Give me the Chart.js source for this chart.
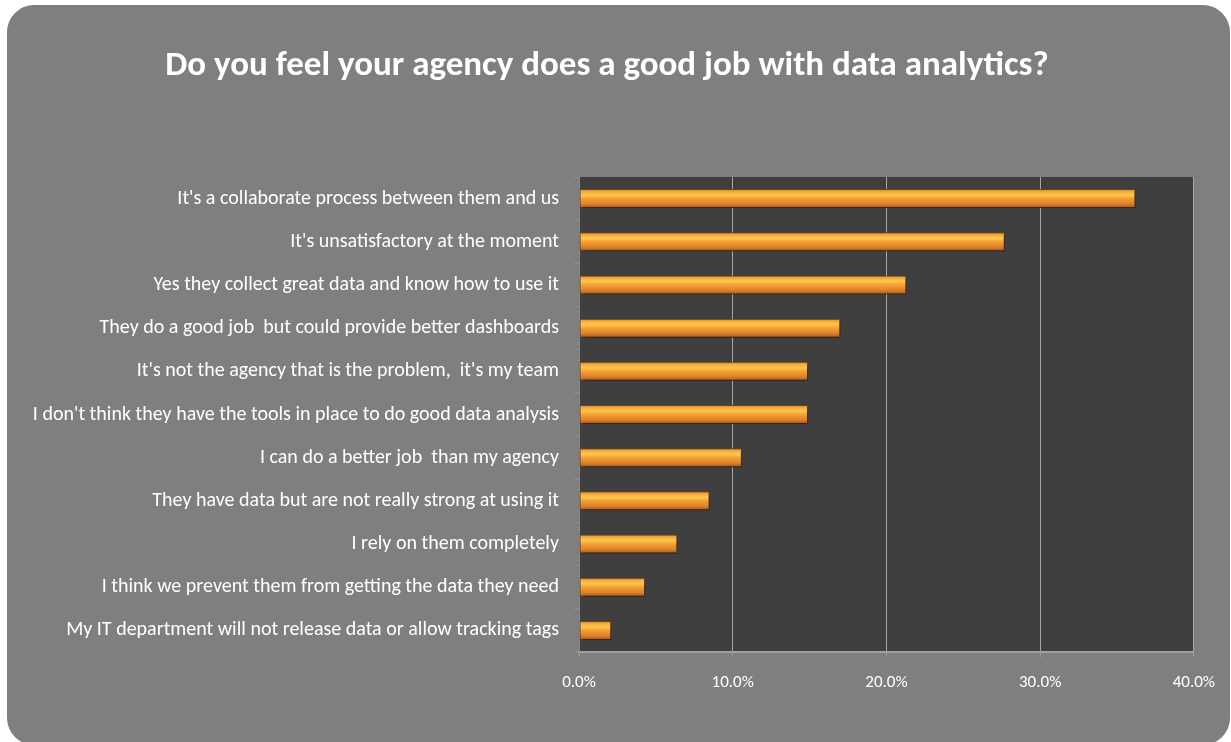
<!DOCTYPE html>
<html>
<head>
<meta charset="utf-8">
<script src="https://cdn.jsdelivr.net/npm/chart.js@4.4.1/dist/chart.umd.min.js"></script>
<style>
  html, body { margin: 0; padding: 0; background: #ffffff; }
  #wrap { position: absolute; left: 0; top: 0; width: 1231px; height: 742px; }
</style>
</head>
<body>
<div id="wrap"><canvas id="bar-chart" width="1231" height="742"></canvas></div>
<script>
var chartTitle = 'Do you feel your agency does a good job with data analytics?';
var respuestas = [
  "It's a collaborate process between them and us",
  "It's unsatisfactory at the moment",
  "Yes they collect great data and know how to use it",
  "They do a good job  but could provide better dashboards",
  "It's not the agency that is the problem,  it's my team",
  "I don't think they have the tools in place to do good data analysis",
  "I can do a better job  than my agency",
  "They have data but are not really strong at using it",
  "I rely on them completely",
  "I think we prevent them from getting the data they need",
  "My IT department will not release data or allow tracking tags"
];
var porcentajes = [36.2, 27.7, 21.3, 17.0, 14.9, 14.9, 10.6, 8.5, 6.4, 4.3, 2.1];
var xTicks = [0, 10, 20, 30, 40];

Chart.defaults.font.family = "'Carlito', 'Lato', 'Liberation Sans Narrow', sans-serif";

// fondo gris redondeado + area de grafica oscura
var fondo = {
  id: 'fondo',
  beforeDraw: function(chart){
    var c = chart.ctx, a = chart.chartArea;
    c.save();
    c.fillStyle = '#7f7f7f';
    c.beginPath();
    c.roundRect(7, 5, 1223, 740, 27);
    c.fill();
    c.fillStyle = '#3f3f3f';
    c.fillRect(a.left, a.top, a.right - a.left, a.bottom - a.top);
    c.restore();
  },
  beforeDatasetsDraw: function(chart){
    var c = chart.ctx;
    c.save();
    c.shadowColor = 'rgba(0,0,0,0.55)';
    c.shadowBlur = 4;
    c.shadowOffsetX = 2;
    c.shadowOffsetY = 3;
  },
  afterDatasetsDraw: function(chart){
    chart.ctx.restore();
  }
};

function naranja(ctx){
  var chart = ctx.chart;
  var y = chart.scales && chart.scales.y;
  if (!y || ctx.dataIndex === undefined || !chart.chartArea) return '#f0a030';
  var centro = y.getPixelForValue(ctx.dataIndex);
  var h = 19;
  var g = chart.ctx.createLinearGradient(0, centro - h / 2, 0, centro + h / 2);
  g.addColorStop(0, '#d08428');
  g.addColorStop(0.15, '#f8ad40');
  g.addColorStop(0.32, '#ffc84c');
  g.addColorStop(0.5, '#f3a034');
  g.addColorStop(0.78, '#de8229');
  g.addColorStop(1, '#985620');
  return g;
}

var ctx = document.getElementById('bar-chart');
var grafica = new Chart(ctx, {
  type: 'bar',
  data: {
    labels: respuestas,
    datasets: [{
      data: porcentajes,
      backgroundColor: naranja,
      borderColor: 'rgba(120,66,20,0.9)',
      borderWidth: 1,
      borderSkipped: false,
      categoryPercentage: 1,
      barPercentage: 0.44
    }]
  },
  options: {
    indexAxis: 'y',
    responsive: false,
    animation: false,
    devicePixelRatio: 1,
    layout: { padding: { left: 20, right: 37, top: 0, bottom: 0 } },
    plugins: {
      legend: { display: false },
      tooltip: { enabled: false },
      title: {
        display: true,
        text: chartTitle,
        color: '#ffffff',
        font: { size: 35, weight: 'bold' },
        padding: { top: 45, bottom: 90 }
      }
    },
    scales: {
      x: {
        min: 0,
        max: 40,
        afterBuildTicks: function(s){ s.ticks = xTicks.map(function(v){ return { value: v }; }); },
        afterFit: function(s){ s.height = 90; },
        grid: { color: '#a6a6a6', lineWidth: 1, tickLength: 5, tickColor: '#9a9a9a' },
        border: { color: '#a0a0a0', width: 2 },
        ticks: {
          color: '#ffffff',
          font: { size: 17 },
          padding: 16,
          callback: function(v){ return v.toFixed(1) + '%'; }
        }
      },
      y: {
        afterFit: function(s){ s.width = 559; },
        grid: { drawOnChartArea: false, offset: true, tickLength: 5, color: '#8f8f8f' },
        border: { color: '#8a8a8a', width: 1 },
        ticks: {
          color: '#ffffff',
          font: { size: 20 },
          padding: 15
        }
      }
    }
  },
  plugins: [fondo]
});
</script>
</body>
</html>
